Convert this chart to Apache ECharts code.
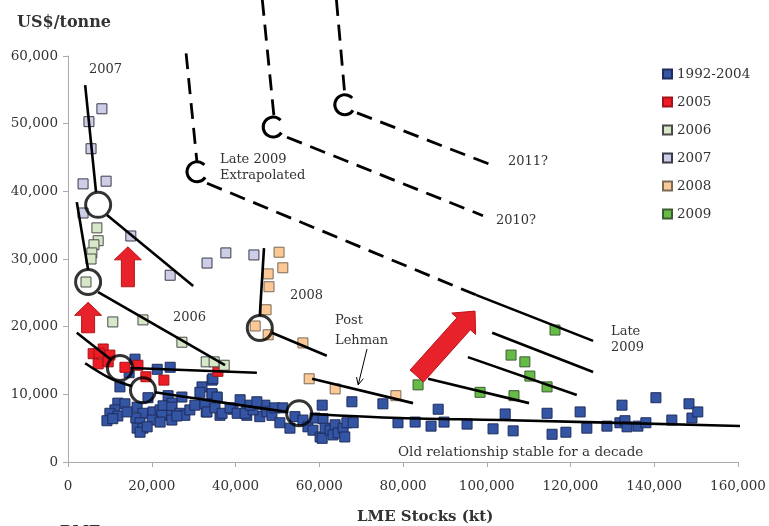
<!DOCTYPE html>
<html><head><meta charset="utf-8">
<script src="https://cdn.jsdelivr.net/npm/echarts@6.0.0/dist/echarts.min.js"></script>
<style>html,body{margin:0;padding:0;background:#fff}#c{width:769px;height:526px}</style>
</head><body><div id="c"></div>
<script>
// ---------- DATA (LME stocks, US$/tonne) ----------
const X_TICKS = [0, 20000, 40000, 60000, 80000, 100000, 120000, 140000, 160000];
const Y_TICKS = [0, 10000, 20000, 30000, 40000, 50000, 60000];
const SERIES_NAMES = ['1992-2004', '2005', '2006', '2007', '2008', '2009'];

const P_1992_2004 = [[16000,15200],[24400,14000],[21300,13700],[14600,13200],[12400,11100],[19100,9500],[23900,9800],[27200,9600],[24800,8700],[32000,11100],[31500,10300],[34400,12100],[34400,9900],[35600,9500],[36300,6900],[33000,7400],[39400,7800],[42700,8100],[42700,6900],[45800,6700],[11900,8700],[13600,8600],[11200,7700],[10000,7200],[11900,6800],[9300,6100],[10700,6400],[16500,8100],[17900,7200],[20300,7400],[22000,7700],[22700,8300],[24800,8100],[23600,6900],[22400,6900],[20100,6200],[22000,5900],[24800,6200],[26700,7200],[27900,6900],[26000,6800],[16200,6500],[17200,5800],[16500,5000],[17900,5000],[17200,4400],[18900,5200],[14100,7400],[29100,7700],[30300,8400],
  [34600,12300],[34400,10100],[35600,9600],[32700,8600],[33200,7400],[35100,8000],[36800,7200],[38700,8000],[40400,7200],[42300,7200],[44200,7700],[47000,8400],[47500,7400],[48700,6900],[49400,8000],[50600,5800],[51300,8000],[53000,5000],[54200,6700],[56100,6200],[57300,5200],[59000,6500],[58500,4700],[60700,8400],[60900,6400],[60200,3700],[61400,5000],[60700,3500],[62600,4700],[63800,5500],[63300,4000],[64500,4300],[65700,5000],[66600,5800],[66100,3700],[67800,8900],[68100,5800],[41100,9200],[43500,8400],[45100,8900],
  [75200,8600],[78800,5800],[82900,5900],[86700,5300],[88400,7800],[89800,5900],[95300,5600],[101500,4900],[104400,7100],[106300,4600],[114400,7200],[115600,4100],[118900,4400],[122300,7400],[123900,5000],[128700,5300],[132300,8400],[131800,5800],[133000,6100],[133500,5200],[136100,5300],[138000,5800],[140400,9500],[144200,6200],[148300,8600],[149000,6500],[150400,7400]];
const P_2005 = [[8400,16700],[6000,16000],[7400,16100],[10000,15800],[7200,14500],[9600,14800],[13600,14000],[16700,14300],[18600,12600],[22900,12100],[35800,13400]];
const P_2006 = [[6900,34600],[7200,32700],[6200,32100],[5700,30900],[5500,30000],[4300,26600],[10700,20700],[17900,21000],[27200,17700],[33000,14800],[34900,14800],[37300,14300]];
const P_2007 = [[8100,52200],[5000,50300],[5500,46300],[3600,41100],[9100,41500],[3600,36800],[15000,33400],[24400,27600],[33200,29400],[37700,30900],[44400,30600]];
const P_2008 = [[50400,31000],[51300,28700],[47800,27800],[48000,25900],[47300,22500],[44700,20100],[47800,18800],[56100,17600],[57600,12300],[63800,10800],[78300,9800]];
const P_2009 = [[83600,11400],[98400,10300],[106500,9800],[114400,11100],[110300,12700],[109100,14800],[105800,15800],[116300,19500]];

// trend lines (solid)
const TREND_2007_A = [[4100,55700],[6700,39900]];
const TREND_2007_B = [[9300,36500],[29900,26000]];
const TREND_2006_A = [[2100,38400],[4800,28400]];
const TREND_2006_B = [[7200,25100],[37500,14300]];
const TREND_2005_A = [[2100,19100],[10300,15100]];
const TREND_2005_B = [[15000,13900],[45100,13200]];
const TREND_2008_A = [[46800,31600],[45800,21600]];
const TREND_2008_B = [[48700,19100],[61800,15700]];
const TREND_LEHMAN = [[58300,12300],[82400,8700]];
const TREND_L09_1 = [[86000,12300],[110100,8700]];
const TREND_L09_2 = [[95500,15500],[121500,9900]];
const TREND_L09_3 = [[101300,19100],[125400,13300]];
const TREND_L09_4 = [[97400,24700],[125400,17900]];
const OLD_REL_1 = [[4100,14600],[10000,12400],[15300,11200]];
const OLD_REL_2 = [[20800,10300],[31500,9300],[41100,8400],[52500,7400]];
const OLD_REL_3 = [[58000,7100],[79300,6500],[103200,6200],[162400,5300]];
// extrapolated (dashed)
const EXTRA_2009_V = [[28200,60400],[30800,44300]];
const EXTRA_2009_D = [[33200,41200],[97400,24700]];
const EXTRA_2010_V = [[46400,68300],[49200,51000]];
const EXTRA_2010_D = [[52300,48000],[99100,36400]];
const EXTRA_2011_V = [[64100,68300],[66100,54300]];
const EXTRA_2011_D = [[69000,51600],[102400,43600]];
const C_MARKS = [[30800,42900],[49000,49500],[66100,52800]];
const RING_MARKS = [[7200,38000],[4800,26600],[12400,13900],[17900,10600],[45800,19800],[55200,7200]];
// block arrows: tail x, tail y, tip x, tip y
const ARROWS = [[14300,25900,14300,31800],[4800,19100,4800,23600],[83300,12700,97200,22300]];
const LEHMAN_POINTER = [[71400,16700,69300,11400]];

// ---------- STYLE ----------
const FONT = '"DejaVu Serif", serif';
const TXT = '#333';
const COLORS = [['#3454A4','#1f2d5c'],['#EE1D25','#a51318'],['#D6E8C8','#4a4a4a'],['#CDCDE8','#3a3a4a'],['#FCC896','#7a6a5a'],['#64BC46','#3f5a33']];
const ARROW_SIZE = [[6.5,13.5,13],[6.5,13.5,13],[9,16,17]];
const fmt = v => String(v).replace(/\B(?=(\d{3})+(?!\d))/g, ',');

const chart = echarts.init(document.getElementById('c'), null, {renderer:'canvas'});
const series = [];
[P_1992_2004,P_2005,P_2006,P_2007,P_2008,P_2009].forEach((d,i)=>{
  series.push({type:'scatter', name:SERIES_NAMES[i], data:d, symbol:'rect', symbolSize:10,
    itemStyle:{color:COLORS[i][0], borderColor:COLORS[i][1], borderWidth:1, opacity:1}, z:2, silent:true});
});
const solid = [TREND_2007_A,TREND_2007_B,TREND_2006_A,TREND_2006_B,TREND_2005_A,TREND_2005_B,TREND_2008_A,TREND_2008_B,TREND_LEHMAN,TREND_L09_1,TREND_L09_2,TREND_L09_3,TREND_L09_4];
solid.forEach(d=>series.push({type:'line', data:d, symbol:'none', clip:false, silent:true, z:5,
  lineStyle:{color:'#000', width:2.6}}));
[OLD_REL_1,OLD_REL_2,OLD_REL_3].forEach(d=>series.push({type:'line', data:d, symbol:'none', clip:false, silent:true, z:5, smooth:0.35,
  lineStyle:{color:'#000', width:2.6}}));
[EXTRA_2009_V,EXTRA_2009_D,EXTRA_2010_V,EXTRA_2010_D,EXTRA_2011_V,EXTRA_2011_D].forEach(d=>series.push({type:'line', data:d, symbol:'none', clip:false, silent:true, z:5,
  lineStyle:{color:'#000', width:2.8, type:[16,9]}}));
series.push({type:'scatter', data:RING_MARKS, symbol:'circle', symbolSize:25, clip:false, silent:true, z:6,
  itemStyle:{color:'rgba(0,0,0,0)', borderColor:'#000', borderWidth:3}});
series.push({type:'custom', data:C_MARKS, clip:false, silent:true, z:6,
  renderItem:(p,api)=>{const c=api.coord([api.value(0),api.value(1)]);
    return {type:'arc', shape:{cx:c[0], cy:c[1], r:10, startAngle:0.6, endAngle:Math.PI*2-0.75, clockwise:true},
      style:{stroke:'#000', fill:null, lineWidth:3}};}});
series.push({type:'custom', data:ARROWS, clip:false, silent:true, z:7,
  renderItem:(p,api)=>{const a=api.coord([api.value(0),api.value(1)]), b=api.coord([api.value(2),api.value(3)]);
    const [sw,hw,hl]=ARROW_SIZE[p.dataIndex];
    const dx=b[0]-a[0], dy=b[1]-a[1], L=Math.hypot(dx,dy), ux=dx/L, uy=dy/L, nx=-uy, ny=ux;
    const bx=b[0]-ux*hl, by=b[1]-uy*hl;
    const pts=[[a[0]+nx*sw,a[1]+ny*sw],[bx+nx*sw,by+ny*sw],[bx+nx*hw,by+ny*hw],b,[bx-nx*hw,by-ny*hw],[bx-nx*sw,by-ny*sw],[a[0]-nx*sw,a[1]-ny*sw]];
    return {type:'polygon', shape:{points:pts}, style:{fill:'#E8222A', stroke:'#B8151B', lineWidth:1}};}});
series.push({type:'custom', data:LEHMAN_POINTER, clip:false, silent:true, z:7,
  renderItem:(p,api)=>{const a=api.coord([api.value(0),api.value(1)]), b=api.coord([api.value(2),api.value(3)]);
    const ang=Math.atan2(b[1]-a[1],b[0]-a[0]), h=8, s=0.45;
    const l=[b[0]-h*Math.cos(ang-s), b[1]-h*Math.sin(ang-s)], r=[b[0]-h*Math.cos(ang+s), b[1]-h*Math.sin(ang+s)];
    return {type:'group', children:[
      {type:'line', shape:{x1:a[0],y1:a[1],x2:b[0],y2:b[1]}, style:{stroke:'#000', lineWidth:1}},
      {type:'polyline', shape:{points:[l,b,r]}, style:{stroke:'#000', lineWidth:1, fill:null}}]};}});

const t = (text,x,y,opt={}) => ({type:'text', silent:true, z:10, style:Object.assign({text, x, y, fill:TXT,
  font:(opt.bold?'bold ':'')+(opt.size||13)+'px '+FONT, textAlign:'left', textVerticalAlign:'middle'}, opt.style||{})});
const graphic = [
  t('US$/tonne',17,23,{bold:true,size:16}),
  t('LME Stocks (kt)',357,517,{bold:true,size:15}),
  t('RME',60,532,{bold:true,size:15}),
  t('2007',89,70),
  t('Late 2009',220,160),
  t('Extrapolated',220,176),
  t('2011?',508,162),
  t('2010?',496,221),
  t('2006',173,318),
  t('2008',290,296),
  t('Post',335,321),
  t('Lehman',335,341),
  t('Late',611,332),
  t('2009',611,348),
  t('Old relationship stable for a decade',398,452,{size:13.5})
];

chart.setOption({
  animation:false,
  backgroundColor:'#fff',
  grid:{left:68, right:31, top:56, bottom:64, containLabel:false},
  legend:{data:SERIES_NAMES, orient:'vertical', left:662, top:67, itemWidth:9, itemHeight:9, itemGap:14, padding:0,
    textStyle:{fontFamily:FONT, fontSize:13.5, color:TXT, lineHeight:14}},
  xAxis:{type:'value', min:X_TICKS[0], max:X_TICKS[X_TICKS.length-1], interval:X_TICKS[1]-X_TICKS[0],
    splitLine:{show:false}, axisLine:{lineStyle:{color:'#aaa', width:1}}, axisTick:{show:true, length:5, lineStyle:{color:'#aaa'}},
    axisLabel:{fontFamily:FONT, fontSize:13.5, color:TXT, margin:17, formatter:fmt}},
  yAxis:{type:'value', min:Y_TICKS[0], max:Y_TICKS[Y_TICKS.length-1], interval:Y_TICKS[1]-Y_TICKS[0],
    splitLine:{show:false}, axisLine:{show:true, lineStyle:{color:'#aaa', width:1}}, axisTick:{show:true, length:5, lineStyle:{color:'#aaa'}},
    axisLabel:{fontFamily:FONT, fontSize:13.5, color:TXT, margin:10, formatter:fmt}},
  series, graphic
});
</script></body></html>
